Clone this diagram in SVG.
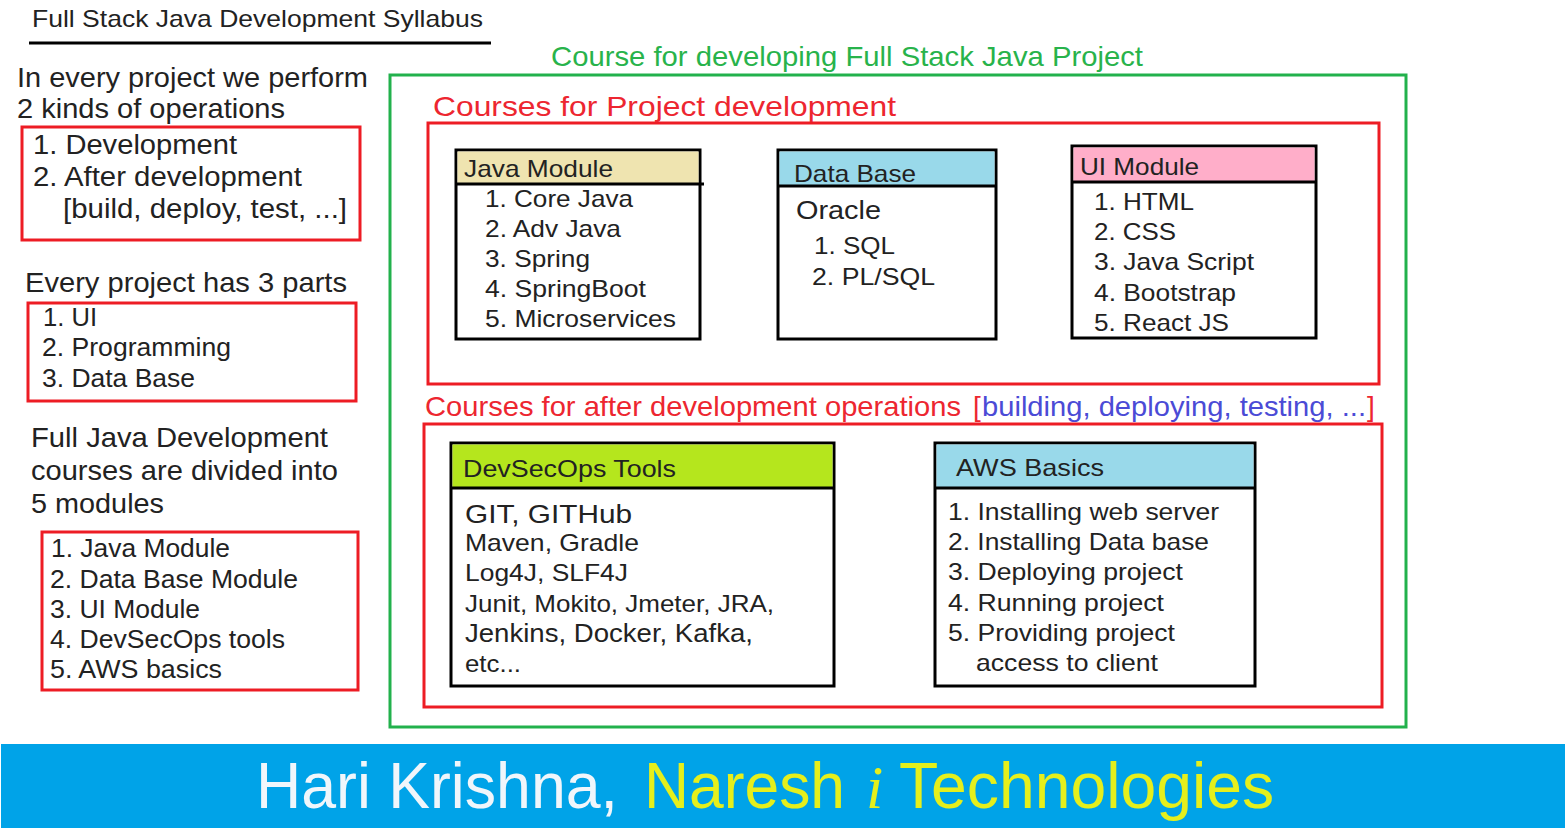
<svg xmlns="http://www.w3.org/2000/svg" width="1565" height="828" viewBox="0 0 1565 828">
<style>
text{font-family:"Liberation Sans",Arial,sans-serif;fill:#222}
.t28{font-size:28px}
.t27{font-size:27px}
.t26{font-size:26px}
.t25{font-size:25px}
.t24{font-size:24px}
.red{fill:#ed2630}
.blue{fill:#4b4bd6}
.green{fill:#28b34b}
.rbox{fill:none;stroke:#ed1c24;stroke-width:3}
.gbox{fill:none;stroke:#22b14c;stroke-width:3}
.mod{fill:#fff;stroke:#000;stroke-width:3}
.sep{stroke:#000;stroke-width:3}
.foot{font-size:64px}
</style>
<rect width="1565" height="828" fill="#fff"/>

<g id="title">
<text x="32" y="27" font-size="24" textLength="451" lengthAdjust="spacingAndGlyphs">Full Stack Java Development Syllabus</text>
<line x1="29" y1="43" x2="491" y2="43" stroke="#000" stroke-width="3"/>
</g>

<g id="operations">
<text class="t28" x="17" y="87" textLength="351" lengthAdjust="spacingAndGlyphs">In every project we perform</text>
<text class="t28" x="17" y="118" textLength="268" lengthAdjust="spacingAndGlyphs">2 kinds of operations</text>
<rect class="rbox" x="22" y="127" width="338" height="113"/>
<text class="t27" x="33" y="154" textLength="204" lengthAdjust="spacingAndGlyphs">1. Development</text>
<text class="t27" x="33" y="186" textLength="269" lengthAdjust="spacingAndGlyphs">2. After development</text>
<text class="t27" x="63" y="218" textLength="284" lengthAdjust="spacingAndGlyphs">[build, deploy, test, ...]</text>
</g>

<g id="parts">
<text class="t28" x="25" y="292" textLength="322" lengthAdjust="spacingAndGlyphs">Every project has 3 parts</text>
<rect class="rbox" x="28" y="303" width="328" height="98"/>
<text class="t26" x="43" y="326" textLength="54" lengthAdjust="spacingAndGlyphs">1. UI</text>
<text class="t26" x="42" y="356" textLength="189" lengthAdjust="spacingAndGlyphs">2. Programming</text>
<text class="t26" x="42" y="387" textLength="153" lengthAdjust="spacingAndGlyphs">3. Data Base</text>
</g>

<g id="modules-list">
<text class="t28" x="31" y="447" textLength="297" lengthAdjust="spacingAndGlyphs">Full Java Development</text>
<text class="t28" x="31" y="480" textLength="307" lengthAdjust="spacingAndGlyphs">courses are divided into</text>
<text class="t28" x="31" y="513" textLength="133" lengthAdjust="spacingAndGlyphs">5 modules</text>
<rect class="rbox" x="42" y="532" width="316" height="158"/>
<text class="t25" x="51" y="557" textLength="179" lengthAdjust="spacingAndGlyphs">1. Java Module</text>
<text class="t25" x="50" y="588" textLength="248" lengthAdjust="spacingAndGlyphs">2. Data Base Module</text>
<text class="t25" x="50" y="618" textLength="150" lengthAdjust="spacingAndGlyphs">3. UI Module</text>
<text class="t25" x="50" y="648" textLength="235" lengthAdjust="spacingAndGlyphs">4. DevSecOps tools</text>
<text class="t25" x="50" y="678" textLength="172" lengthAdjust="spacingAndGlyphs">5. AWS basics</text>
</g>

<g id="full-stack-project">
<rect class="gbox" x="390" y="75" width="1016" height="652"/>
<text class="t28 green" x="551" y="66" textLength="592" lengthAdjust="spacingAndGlyphs">Course for developing Full Stack Java Project</text>
</g>

<g id="project-development">
<rect class="rbox" x="428" y="123" width="951" height="261"/>
<text class="t28 red" x="433" y="116" textLength="463" lengthAdjust="spacingAndGlyphs">Courses for Project development</text>
</g>

<g id="java-module">
<rect class="mod" x="456" y="150" width="244" height="189"/>
<rect x="457.5" y="151.5" width="241" height="32.5" fill="#efe4b0"/>
<line class="sep" x1="456" y1="184" x2="704" y2="184"/>
<text class="t24" x="464" y="177" textLength="149" lengthAdjust="spacingAndGlyphs">Java Module</text>
<text class="t24" x="485" y="207" textLength="148" lengthAdjust="spacingAndGlyphs">1. Core Java</text>
<text class="t24" x="485" y="237" textLength="136" lengthAdjust="spacingAndGlyphs">2. Adv Java</text>
<text class="t24" x="485" y="267" textLength="105" lengthAdjust="spacingAndGlyphs">3. Spring</text>
<text class="t24" x="485" y="297" textLength="161" lengthAdjust="spacingAndGlyphs">4. SpringBoot</text>
<text class="t24" x="485" y="327" textLength="191" lengthAdjust="spacingAndGlyphs">5. Microservices</text>
</g>

<g id="database-module">
<rect class="mod" x="778" y="150" width="218" height="189"/>
<rect x="779.5" y="151.5" width="215" height="35" fill="#99d9ea"/>
<line class="sep" x1="778" y1="186" x2="996" y2="186"/>
<text class="t24" x="794" y="182" textLength="122" lengthAdjust="spacingAndGlyphs">Data Base</text>
<text class="t26" x="796" y="219" textLength="85" lengthAdjust="spacingAndGlyphs">Oracle</text>
<text class="t24" x="814" y="254" textLength="81" lengthAdjust="spacingAndGlyphs">1. SQL</text>
<text class="t24" x="812" y="285" textLength="123" lengthAdjust="spacingAndGlyphs">2. PL/SQL</text>
</g>

<g id="ui-module">
<rect class="mod" x="1072" y="146" width="244" height="192"/>
<rect x="1073.5" y="147.5" width="241" height="34.5" fill="#ffaec9"/>
<line class="sep" x1="1072" y1="182" x2="1316" y2="182"/>
<text class="t24" x="1080" y="175" textLength="119" lengthAdjust="spacingAndGlyphs">UI Module</text>
<text class="t24" x="1094" y="210" textLength="100" lengthAdjust="spacingAndGlyphs">1. HTML</text>
<text class="t24" x="1094" y="240" textLength="82" lengthAdjust="spacingAndGlyphs">2. CSS</text>
<text class="t24" x="1094" y="270" textLength="160" lengthAdjust="spacingAndGlyphs">3. Java Script</text>
<text class="t24" x="1094" y="301" textLength="142" lengthAdjust="spacingAndGlyphs">4. Bootstrap</text>
<text class="t24" x="1094" y="331" textLength="135" lengthAdjust="spacingAndGlyphs">5. React JS</text>
</g>

<g id="after-development">
<rect class="rbox" x="424" y="424" width="958" height="283"/>
<text class="t28 red" x="425" y="416" textLength="536" lengthAdjust="spacingAndGlyphs">Courses for after development operations</text>
<text class="t28 red" x="973">
<tspan y="416">[</tspan></text>
<text class="t28 blue" x="982" y="416" textLength="384" lengthAdjust="spacingAndGlyphs">building, deploying, testing, ...</text>
<text class="t28 red" x="1367" y="416">]</text>
</g>

<g id="devsecops-tools">
<rect class="mod" x="451" y="443" width="383" height="243"/>
<rect x="452.5" y="444.5" width="380" height="43.5" fill="#b5e61d"/>
<line class="sep" x1="451" y1="488" x2="834" y2="488"/>
<text class="t24" x="463" y="477" textLength="213" lengthAdjust="spacingAndGlyphs">DevSecOps Tools</text>
<text class="t26" x="465" y="523" textLength="167" lengthAdjust="spacingAndGlyphs">GIT, GITHub</text>
<text class="t24" x="465" y="551" textLength="174" lengthAdjust="spacingAndGlyphs">Maven, Gradle</text>
<text class="t24" x="465" y="581" textLength="163" lengthAdjust="spacingAndGlyphs">Log4J, SLF4J</text>
<text class="t24" x="465" y="612" textLength="309" lengthAdjust="spacingAndGlyphs">Junit, Mokito, Jmeter, JRA,</text>
<text class="t25" x="465" y="642" textLength="288" lengthAdjust="spacingAndGlyphs">Jenkins, Docker, Kafka,</text>
<text class="t24" x="465" y="672" textLength="56" lengthAdjust="spacingAndGlyphs">etc...</text>
</g>

<g id="aws-basics">
<rect class="mod" x="935" y="443" width="320" height="243"/>
<rect x="936.5" y="444.5" width="317" height="43.5" fill="#99d9ea"/>
<line class="sep" x1="935" y1="488" x2="1255" y2="488"/>
<text class="t24" x="956" y="476" textLength="148" lengthAdjust="spacingAndGlyphs">AWS Basics</text>
<text class="t24" x="948" y="520" textLength="271" lengthAdjust="spacingAndGlyphs">1. Installing web server</text>
<text class="t24" x="948" y="550" textLength="261" lengthAdjust="spacingAndGlyphs">2. Installing Data base</text>
<text class="t24" x="948" y="580" textLength="235" lengthAdjust="spacingAndGlyphs">3. Deploying project</text>
<text class="t24" x="948" y="611" textLength="216" lengthAdjust="spacingAndGlyphs">4. Running project</text>
<text class="t24" x="948" y="641" textLength="227" lengthAdjust="spacingAndGlyphs">5. Providing project</text>
<text class="t24" x="976" y="671" textLength="182" lengthAdjust="spacingAndGlyphs">access to client</text>
</g>

<g id="connectors"></g>

<g id="footer">
<rect x="1" y="744" width="1564" height="84" fill="#00a3e8"/>
<text class="foot" x="256" y="808" fill="#f0f6fb" style="fill:#f0f6fb" textLength="362" lengthAdjust="spacingAndGlyphs">Hari Krishna,</text>
<text class="foot" x="644" y="808" style="fill:#e5ef1c" textLength="201" lengthAdjust="spacingAndGlyphs">Naresh</text>
<text x="866" y="808" style="fill:#e5ef1c;font-family:'Liberation Serif','Times New Roman',serif;font-style:italic;font-size:62px">i</text>
<text class="foot" x="899" y="808" style="fill:#e5ef1c" textLength="375" lengthAdjust="spacingAndGlyphs">Technologies</text>
</g>
</svg>
